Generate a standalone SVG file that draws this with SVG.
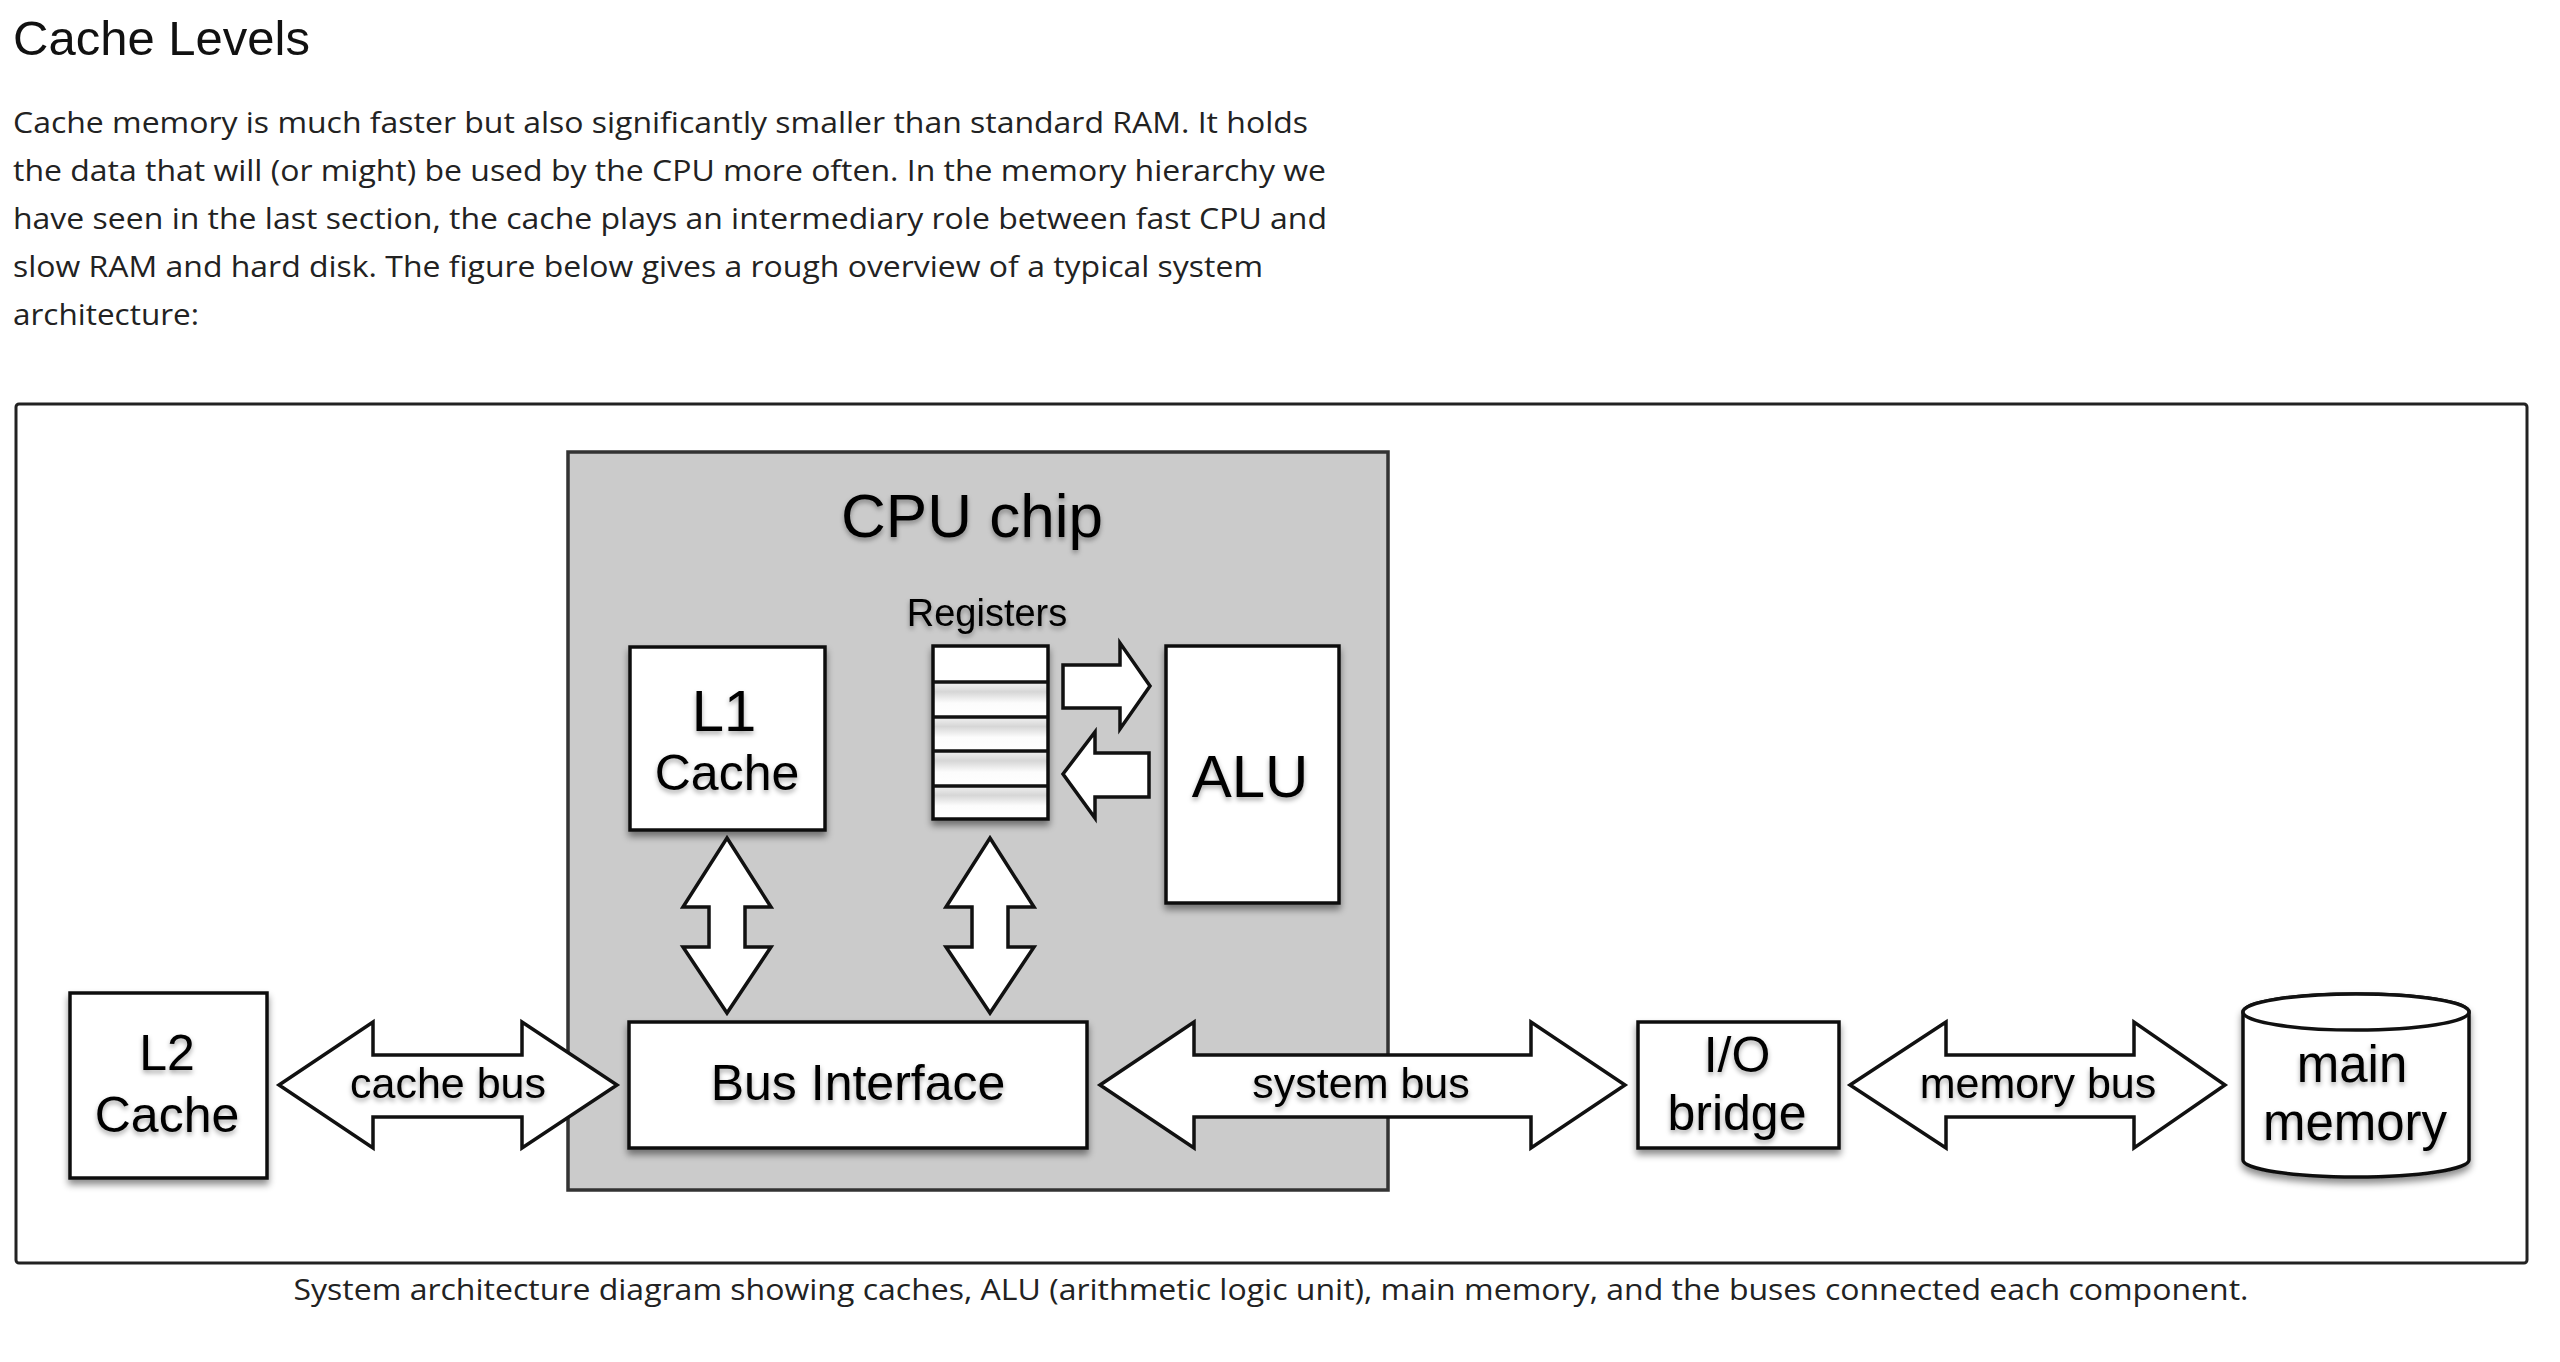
<svg xmlns="http://www.w3.org/2000/svg" width="2560" height="1362" viewBox="0 0 2560 1362">
<defs>
<style>
.h{font-family:"Liberation Sans",Arial,sans-serif;fill:#111}
.p{font-family:"Open Sans","Liberation Sans",sans-serif;fill:#222;font-size:29px}
.d{font-family:"Liberation Sans",Arial,Helvetica,sans-serif;fill:#000;text-anchor:middle}
.box{fill:#fff;stroke:#111;stroke-width:3.5}
.arr{fill:#fff;stroke:#111;stroke-width:3.5;stroke-linejoin:miter}
.row{stroke:#111;stroke-width:3.5}
</style>
<filter id="sh" x="-20%" y="-20%" width="140%" height="150%">
<feDropShadow dx="0" dy="5" stdDeviation="3.5" flood-color="#000" flood-opacity="0.45"/>
</filter>
<filter id="tsh" x="-10%" y="-20%" width="120%" height="150%">
<feDropShadow dx="0" dy="3" stdDeviation="2.5" flood-color="#000" flood-opacity="0.35"/>
</filter>
<linearGradient id="rg" x1="0" y1="0" x2="0" y2="1">
<stop offset="0" stop-color="#f2f2f2"/>
<stop offset="0.28" stop-color="#d6d6d6"/>
<stop offset="0.6" stop-color="#fcfcfc"/>
<stop offset="1" stop-color="#ffffff"/>
</linearGradient>
</defs>
<rect width="2560" height="1362" fill="#fff"/>
<g id="heading">
<text class="h" x="13" y="55" font-size="49">Cache Levels</text>
</g>
<g id="paragraph">
<text class="p" x="13" y="133" textLength="1295" lengthAdjust="spacingAndGlyphs">Cache memory is much faster but also significantly smaller than standard RAM. It holds</text>
<text class="p" x="13" y="181" textLength="1313" lengthAdjust="spacingAndGlyphs">the data that will (or might) be used by the CPU more often. In the memory hierarchy we</text>
<text class="p" x="13" y="229" textLength="1314" lengthAdjust="spacingAndGlyphs">have seen in the last section, the cache plays an intermediary role between fast CPU and</text>
<text class="p" x="13" y="277" textLength="1250" lengthAdjust="spacingAndGlyphs">slow RAM and hard disk. The figure below gives a rough overview of a typical system</text>
<text class="p" x="13" y="325" textLength="186" lengthAdjust="spacingAndGlyphs">architecture:</text>
</g>
<g id="frame">
<rect x="16" y="404" width="2511" height="859" rx="3" fill="#fff" stroke="#222" stroke-width="3"/>
</g>
<g id="cpu-chip">
<rect x="568" y="452" width="820" height="738" fill="#cbcbcb" stroke="#333" stroke-width="3.5"/>
<text class="d" x="972" y="537" font-size="62" filter="url(#tsh)">CPU chip</text>
</g>
<g id="registers">
<text class="d" x="987" y="626" font-size="38" filter="url(#tsh)">Registers</text>
<g filter="url(#sh)">
<rect x="933" y="646" width="115" height="173" fill="#fff"/>
<rect x="933" y="682" width="115" height="35" fill="url(#rg)"/>
<rect x="933" y="717" width="115" height="34" fill="url(#rg)"/>
<rect x="933" y="751" width="115" height="35" fill="url(#rg)"/>
<rect x="933" y="786" width="115" height="33" fill="url(#rg)"/>
<rect x="933" y="646" width="115" height="173" fill="none" stroke="#111" stroke-width="3.5"/>
</g>
<line class="row" x1="933" y1="682" x2="1048" y2="682"/>
<line class="row" x1="933" y1="717" x2="1048" y2="717"/>
<line class="row" x1="933" y1="751" x2="1048" y2="751"/>
<line class="row" x1="933" y1="786" x2="1048" y2="786"/>
</g>
<g id="l1-cache">
<rect class="box" x="630" y="647" width="195" height="183" filter="url(#sh)"/>
<text class="d" x="724" y="731" font-size="58" filter="url(#tsh)">L1</text>
<text class="d" x="727" y="790" font-size="50" filter="url(#tsh)">Cache</text>
</g>
<g id="alu">
<rect class="box" x="1166" y="646" width="173" height="257" filter="url(#sh)"/>
<text class="d" x="1250" y="797" font-size="60" filter="url(#tsh)">ALU</text>
</g>
<g id="bus-interface">
<rect class="box" x="629" y="1022" width="458" height="126" filter="url(#sh)"/>
<text class="d" x="858" y="1100" font-size="50" filter="url(#tsh)">Bus Interface</text>
</g>
<g id="l2-cache">
<rect class="box" x="70" y="993" width="197" height="185" filter="url(#sh)"/>
<text class="d" x="167" y="1070" font-size="50" filter="url(#tsh)">L2</text>
<text class="d" x="167" y="1132" font-size="50" filter="url(#tsh)">Cache</text>
</g>
<g id="io-bridge">
<rect class="box" x="1638" y="1022" width="201" height="126" filter="url(#sh)"/>
<text class="d" x="1737" y="1072" font-size="50" filter="url(#tsh)">I/O</text>
<text class="d" x="1737" y="1130" font-size="50" filter="url(#tsh)">bridge</text>
</g>
<g id="main-memory">
<path d="M2243,1012 L2243,1160 A113,17 0 0 0 2469,1160 L2469,1012 A113,18 0 0 0 2243,1012 Z" fill="#fff" stroke="#111" stroke-width="3.5" filter="url(#sh)"/>
<ellipse cx="2356" cy="1012" rx="113" ry="18" fill="#fff" stroke="#111" stroke-width="3.5"/>
<text class="d" x="2352" y="1082" font-size="51" filter="url(#tsh)">main</text>
<text class="d" x="2355" y="1140" font-size="51" filter="url(#tsh)">memory</text>
</g>
<g id="connectors">
<polygon class="arr" points="279,1085 373,1022 373,1055 522,1055 522,1022 617,1085 522,1148 522,1117 373,1117 373,1148"/>
<polygon class="arr" points="1100,1085 1194,1022 1194,1055 1531,1055 1531,1022 1625,1085 1531,1148 1531,1117 1194,1117 1194,1148"/>
<polygon class="arr" points="1850,1085 1946,1022 1946,1055 2134,1055 2134,1022 2225,1085 2134,1148 2134,1117 1946,1117 1946,1148"/>
<polygon class="arr" points="727,838 771,907 745,907 745,947 771,947 727,1013 683,947 709,947 709,907 683,907"/>
<polygon class="arr" points="990,838 1034,907 1008,907 1008,947 1034,947 990,1013 946,947 972,947 972,907 946,907"/>
<polygon class="arr" points="1063,665 1120,665 1120,643 1150,686 1120,729 1120,708 1063,708"/>
<polygon class="arr" points="1063,774 1095,732 1095,753 1149,753 1149,797 1095,797 1095,818"/>
<text class="d" x="448" y="1098" font-size="43" filter="url(#tsh)">cache bus</text>
<text class="d" x="1361" y="1098" font-size="43" filter="url(#tsh)">system bus</text>
<text class="d" x="2038" y="1098" font-size="43" filter="url(#tsh)">memory bus</text>
</g>
<g id="caption">
<text class="p" x="1271" y="1300" text-anchor="middle" textLength="1955" lengthAdjust="spacingAndGlyphs">System architecture diagram showing caches, ALU (arithmetic logic unit), main memory, and the buses connected each component.</text>
</g>
</svg>
